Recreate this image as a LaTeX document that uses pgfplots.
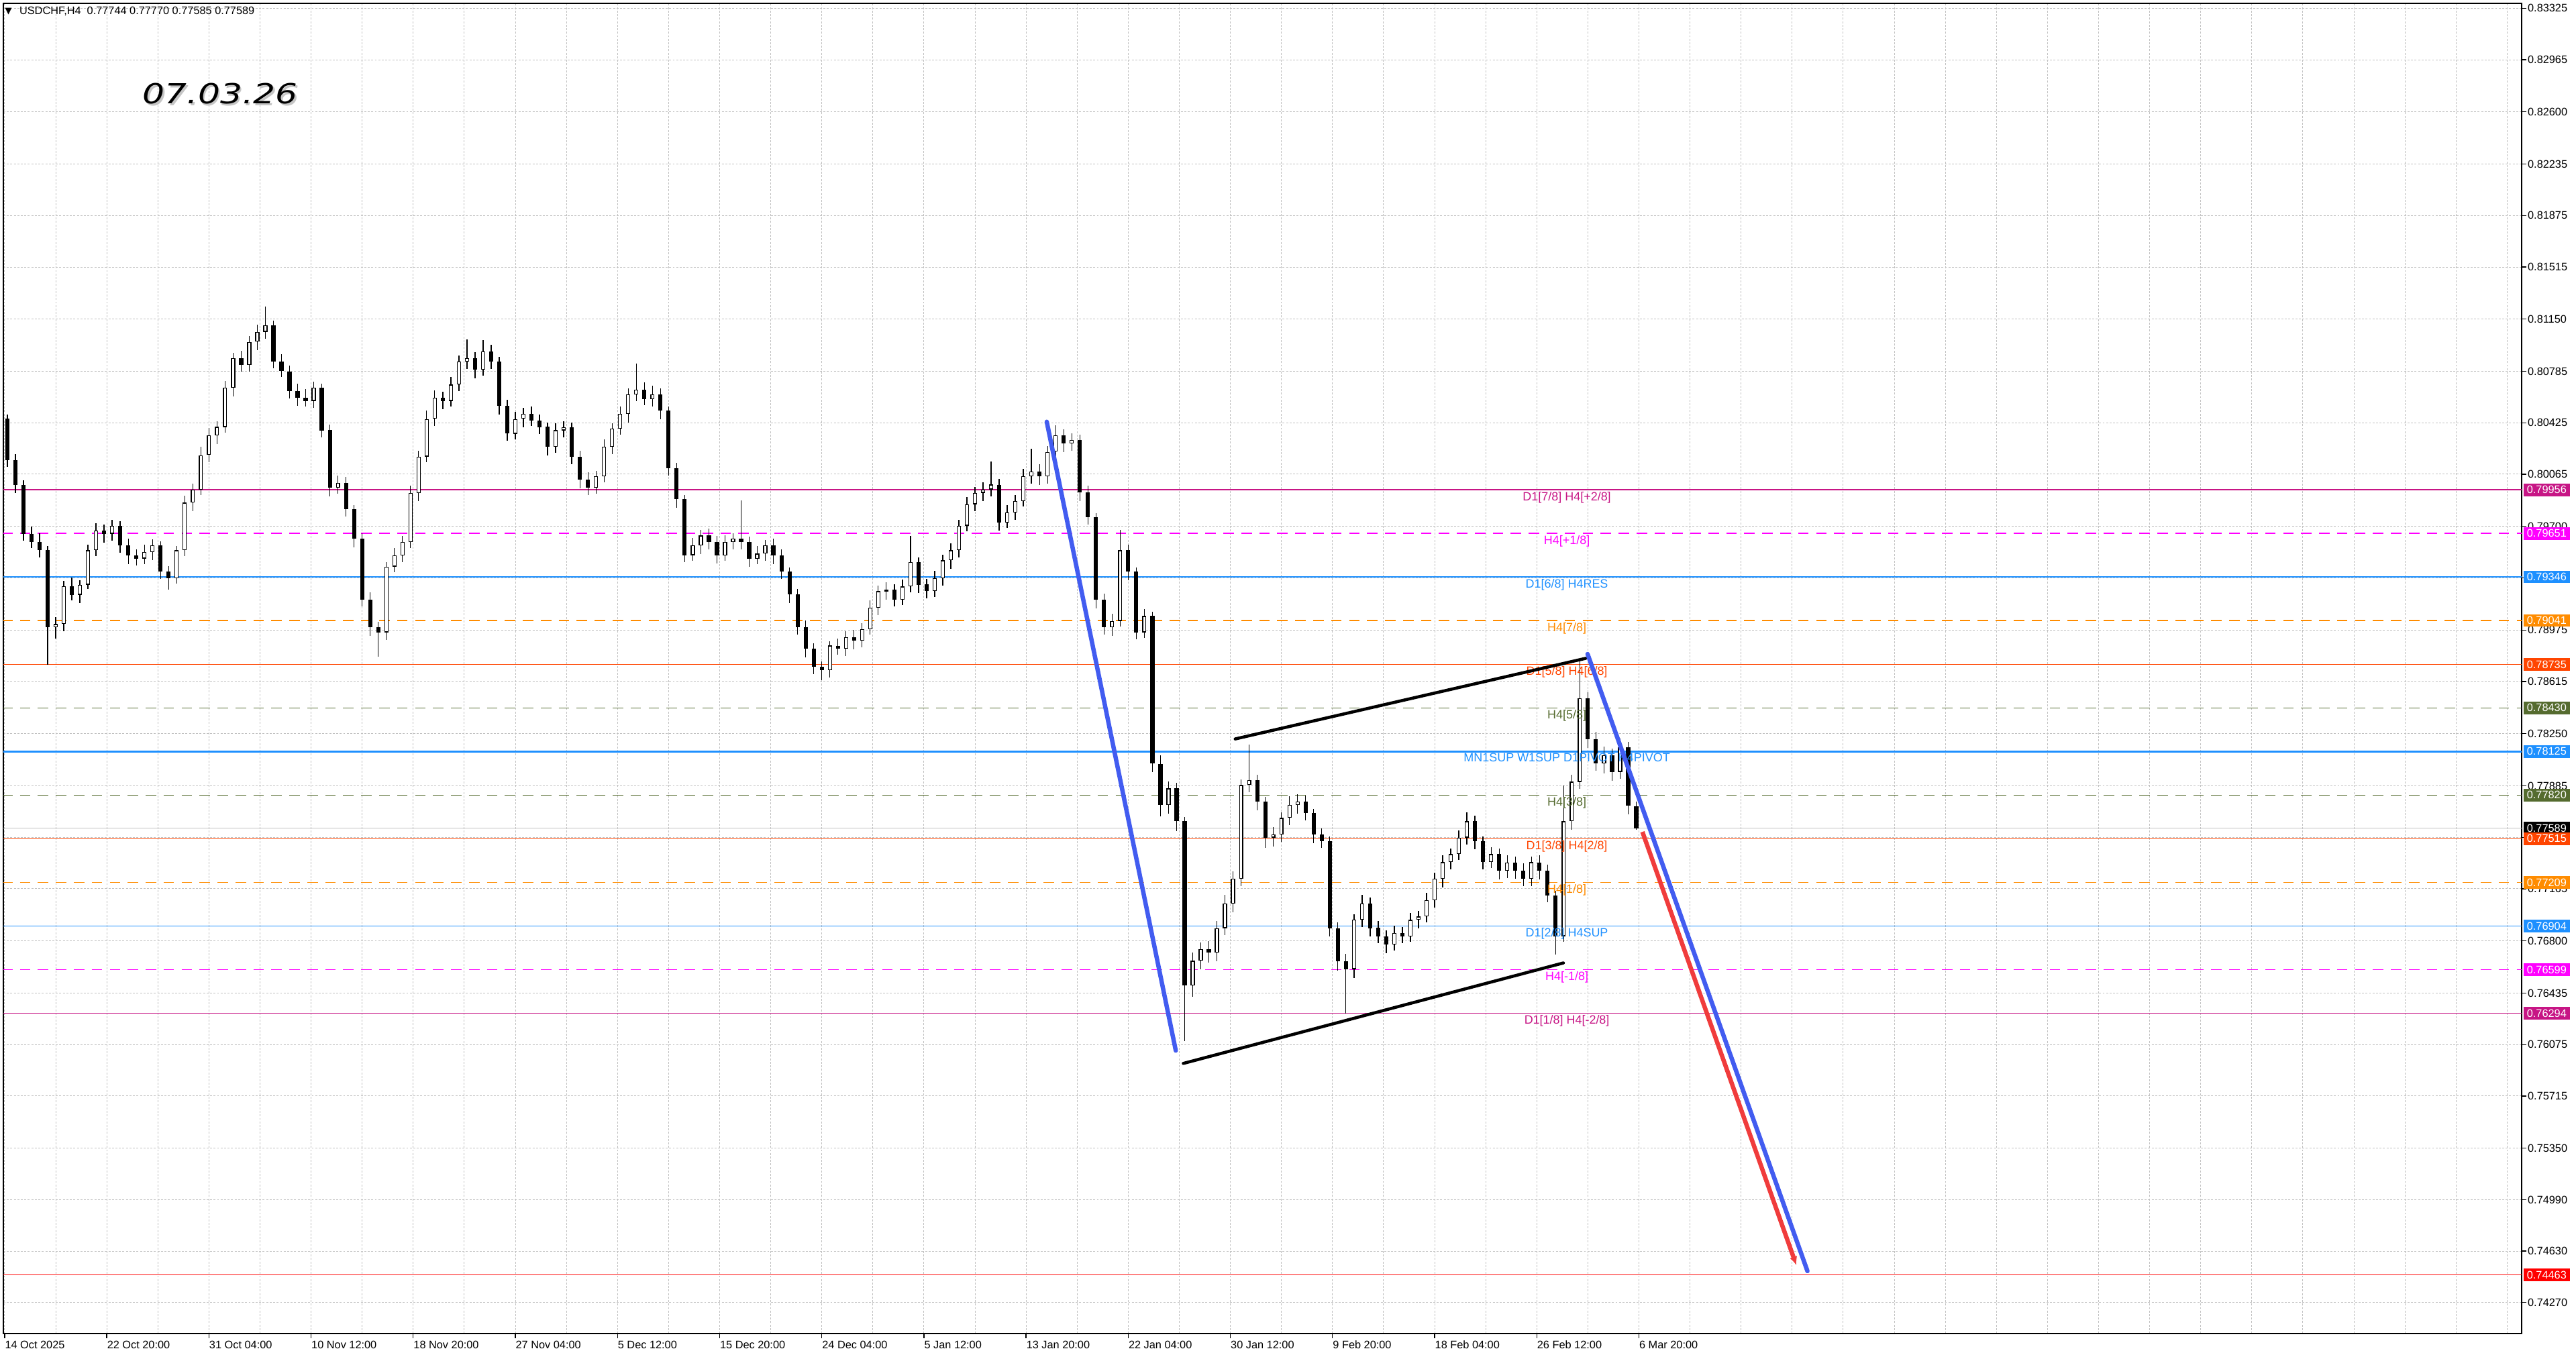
\documentclass[border=0pt]{standalone}
\usepackage{fontspec}
\setmainfont{Liberation Sans}
\newfontfamily\dejavu{DejaVu Sans}
\usepackage{pgfplots}
\usepackage{pgfplotstable}
\pgfplotsset{compat=1.18}
\usetikzlibrary{arrows.meta}

\definecolor{mvRed}{RGB}{199,21,133}
\definecolor{magLvl}{RGB}{255,0,255}
\definecolor{dBlue}{RGB}{30,144,255}
\definecolor{dOrange}{RGB}{255,140,0}
\definecolor{oRed}{RGB}{255,69,0}
\definecolor{oliveLvl}{RGB}{85,107,47}
\definecolor{gridGray}{RGB}{192,192,192}
\definecolor{trendBlue}{RGB}{66,92,240}
\definecolor{trendRed}{RGB}{240,60,60}

\newcommand\tickfont{\fontsize{5}{6}\selectfont}
\newcommand\lvlfont{\fontsize{5.5}{6.5}\selectfont}

% USDCHF H4, one row per three H4 bars: open, close, upper / lower wick in pips
\pgfplotstableread{
o c wu wd
0.80453 0.80166 3 5
0.80166 0.79993 4 6
0.79993 0.79649 3 5
0.79649 0.79591 5 4
0.79591 0.79534 6 5
0.79534 0.78994 3 26
0.78994 0.79017 5 8
0.79017 0.79281 4 5
0.79281 0.79224 6 4
0.79224 0.79293 3 6
0.79293 0.79534 4 3
0.79534 0.79672 5 4
0.79672 0.79649 4 6
0.79649 0.79706 4 5
0.79706 0.79568 3 5
0.79568 0.79499 5 6
0.79499 0.79476 4 5
0.79476 0.79522 5 4
0.79522 0.79568 4 6
0.79568 0.79384 3 5
0.79384 0.79339 4 8
0.79339 0.79534 3 4
0.79534 0.79867 5 4
0.79867 0.79959 4 6
0.79959 0.80200 6 4
0.80200 0.80338 5 5
0.80338 0.80396 4 6
0.80396 0.80671 5 4
0.80671 0.80878 4 6
0.80878 0.80832 5 5
0.80832 0.80993 4 5
0.80993 0.81062 5 6
0.81062 0.81108 13 5
0.81108 0.80855 3 5
0.80855 0.80786 5 4
0.80786 0.80648 4 5
0.80648 0.80602 5 6
0.80602 0.80579 6 4
0.80579 0.80671 4 5
0.80671 0.80373 3 5
0.80373 0.79970 4 6
0.79970 0.80005 5 4
0.80005 0.79821 4 5
0.79821 0.79614 3 6
0.79614 0.79189 4 5
0.79189 0.78994 5 6
0.78994 0.78959 4 17
0.78959 0.79419 3 5
0.79419 0.79499 5 4
0.79499 0.79591 4 5
0.79591 0.79936 5 4
0.79936 0.80189 4 6
0.80189 0.80453 6 4
0.80453 0.80602 5 5
0.80602 0.80579 4 6
0.80579 0.80694 5 4
0.80694 0.80855 4 5
0.80855 0.80878 13 5
0.80878 0.80798 4 6
0.80798 0.80924 8 4
0.80924 0.80855 5 5
0.80855 0.80545 3 6
0.80545 0.80350 4 5
0.80350 0.80453 5 4
0.80453 0.80488 4 6
0.80488 0.80442 5 4
0.80442 0.80396 4 5
0.80396 0.80258 3 6
0.80258 0.80373 5 4
0.80373 0.80396 4 5
0.80396 0.80189 3 5
0.80189 0.80028 4 6
0.80028 0.79970 5 5
0.79970 0.80051 4 4
0.80051 0.80258 5 4
0.80258 0.80384 4 5
0.80384 0.80488 5 4
0.80488 0.80625 4 6
0.80625 0.80660 18 5
0.80660 0.80591 5 4
0.80591 0.80625 6 5
0.80625 0.80510 4 6
0.80510 0.80108 3 5
0.80108 0.79890 4 6
0.79890 0.79499 3 5
0.79499 0.79568 5 4
0.79568 0.79637 4 6
0.79637 0.79591 5 5
0.79591 0.79499 4 6
0.79499 0.79591 5 4
0.79591 0.79614 4 5
0.79614 0.79591 27 5
0.79591 0.79476 4 6
0.79476 0.79511 5 4
0.79511 0.79568 4 5
0.79568 0.79499 5 6
0.79499 0.79384 4 5
0.79384 0.79224 3 6
0.79224 0.78994 4 5
0.78994 0.78844 5 6
0.78844 0.78718 4 5
0.78718 0.78695 4 7
0.78695 0.78867 3 5
0.78867 0.78844 5 4
0.78844 0.78925 4 5
0.78925 0.78902 5 6
0.78902 0.78982 4 5
0.78982 0.79132 5 4
0.79132 0.79247 4 5
0.79247 0.79258 5 6
0.79258 0.79189 4 5
0.79189 0.79281 5 4
0.79281 0.79453 18 4
0.79453 0.79293 3 6
0.79293 0.79247 4 5
0.79247 0.79339 5 4
0.79339 0.79465 4 5
0.79465 0.79534 5 6
0.79534 0.79706 4 5
0.79706 0.79856 5 4
0.79856 0.79936 4 5
0.79936 0.79959 5 6
0.79959 0.79993 16 5
0.79993 0.79729 4 6
0.79729 0.79798 5 4
0.79798 0.79879 4 5
0.79879 0.80051 5 4
0.80051 0.80085 16 5
0.80085 0.80051 5 6
0.80051 0.80223 4 5
0.80223 0.80338 7 5
0.80338 0.80281 4 6
0.80281 0.80304 5 5
0.80304 0.79936 4 6
0.79936 0.79764 5 5
0.79764 0.79189 3 6
0.79189 0.78994 4 5
0.78994 0.79040 5 6
0.79040 0.79534 14 4
0.79534 0.79384 4 6
0.79384 0.78959 3 5
0.78959 0.79074 5 4
0.79074 0.78040 3 6
0.78040 0.77753 6 8
0.77753 0.77868 5 6
0.77868 0.77638 4 7
0.77638 0.76489 3 39
0.76489 0.76661 6 8
0.76661 0.76742 5 6
0.76742 0.76719 6 7
0.76719 0.76891 5 6
0.76891 0.77063 6 5
0.77063 0.77236 5 6
0.77236 0.77891 4 5
0.77891 0.77925 25 5
0.77925 0.77776 4 6
0.77776 0.77523 3 7
0.77523 0.77546 5 6
0.77546 0.77661 4 5
0.77661 0.77753 6 5
0.77753 0.77776 5 6
0.77776 0.77695 4 5
0.77695 0.77546 3 6
0.77546 0.77500 4 5
0.77500 0.76891 3 6
0.76891 0.76661 4 7
0.76661 0.76604 5 31
0.76604 0.76949 4 6
0.76949 0.77063 6 5
0.77063 0.76891 4 6
0.76891 0.76834 5 5
0.76834 0.76776 4 6
0.76776 0.76857 5 4
0.76857 0.76834 4 5
0.76834 0.76949 5 4
0.76949 0.76972 4 6
0.76972 0.77086 5 4
0.77086 0.77236 4 5
0.77236 0.77351 5 6
0.77351 0.77408 4 5
0.77408 0.77523 5 4
0.77523 0.77638 6 5
0.77638 0.77500 4 6
0.77500 0.77351 3 5
0.77351 0.77408 5 4
0.77408 0.77293 4 6
0.77293 0.77351 5 5
0.77351 0.77293 4 6
0.77293 0.77236 5 5
0.77236 0.77351 4 5
0.77351 0.77293 5 6
0.77293 0.77121 4 5
0.77121 0.76834 3 13
0.76834 0.77638 25 4
0.77638 0.77914 5 6
0.77914 0.78500 27 5
0.78500 0.78213 4 6
0.78213 0.78040 5 5
0.78040 0.78098 6 7
0.78098 0.77983 5 6
0.77983 0.78155 6 5
0.78155 0.77744 4 6
0.77744 0.77589 3 1
}\candles

\begin{document}
\begin{tikzpicture}
\path[use as bounding box] (0,0) rectangle (1176pt,618.75pt);
\begin{axis}[
  at={(1.5pt,9.75pt)}, anchor=south west,
  scale only axis, width=1149.75pt, height=607.5pt,
  xmin=-0.5, xmax=936.4, ymin=0.74053, ymax=0.83360,
  clip mode=individual,
  axis line style={black, line width=0.5pt},
  grid=major,
  grid style={gridGray, line width=0.3pt, dash pattern=on 0.9pt off 0.7pt},
  tick align=outside, major tick length=2pt,
  xtick pos=bottom, ytick pos=right, yticklabel pos=right,
  xtick={0,19,...,931},
  xticklabels={14 Oct 2025,,22 Oct 20:00,,31 Oct 04:00,,10 Nov 12:00,,18 Nov 20:00,,27 Nov 04:00,,5 Dec 12:00,,15 Dec 20:00,,24 Dec 04:00,,5 Jan 12:00,,13 Jan 20:00,,22 Jan 04:00,,30 Jan 12:00,,9 Feb 20:00,,18 Feb 04:00,,26 Feb 12:00,,6 Mar 20:00},
  xtick style={draw=none},
  extra x ticks={0,38,...,608},
  extra x tick labels={},
  extra x tick style={grid=none, xtick style={draw=black, line width=0.4pt}},
  ytick={0.83325,0.82965,0.82600,0.82235,0.81875,0.81515,0.81150,0.80785,0.80425,0.80065,0.79700,0.79340,0.78975,0.78615,0.78250,0.77885,0.77525,0.77165,0.76800,0.76435,0.76075,0.75715,0.75350,0.74990,0.74630,0.74270},
  yticklabels={0.83325,0.82965,0.82600,0.82235,0.81875,0.81515,0.81150,0.80785,0.80425,0.80065,0.79700,0.79340,0.78975,0.78615,0.78250,0.77885,0.77525,0.77165,0.76800,0.76435,0.76075,0.75715,0.75350,0.74990,0.74630,0.74270},
  ytick style={black, line width=0.4pt},
  xticklabel style={font=\tickfont, anchor=north west, inner sep=0pt, yshift=-1.2pt},
  yticklabel style={font=\tickfont, anchor=west, inner sep=0pt, xshift=0.6pt},
  candle/.style={only marks, mark=*, mark size=0pt, mark options={draw=none, fill=none},
    error bars/.cd, y dir=both, y explicit, error mark=none},
]
% level lines
\addplot[mvRed, line width=0.45pt] coordinates {(-1,0.79956) (940,0.79956)};
\addplot[magLvl, line width=0.45pt, dash pattern=on 4.8pt off 3.4pt] coordinates {(-1,0.79651) (940,0.79651)};
\addplot[dBlue, line width=0.45pt] coordinates {(-1,0.79346) (940,0.79346)};
\addplot[dOrange, line width=0.45pt, dash pattern=on 4.8pt off 3.4pt] coordinates {(-1,0.79041) (940,0.79041)};
\addplot[oRed, line width=0.45pt] coordinates {(-1,0.78735) (940,0.78735)};
\addplot[oliveLvl, line width=0.45pt, dash pattern=on 4.8pt off 3.4pt] coordinates {(-1,0.78430) (940,0.78430)};
\addplot[dBlue, line width=0.75pt] coordinates {(-1,0.78125) (940,0.78125)};
\addplot[oliveLvl, line width=0.45pt, dash pattern=on 4.8pt off 3.4pt] coordinates {(-1,0.77820) (940,0.77820)};
\addplot[gridGray, line width=0.45pt] coordinates {(-1,0.77589) (940,0.77589)};
\addplot[oRed, line width=0.45pt] coordinates {(-1,0.77515) (940,0.77515)};
\addplot[dOrange, line width=0.45pt, dash pattern=on 4.8pt off 3.4pt] coordinates {(-1,0.77209) (940,0.77209)};
\addplot[dBlue, line width=0.45pt] coordinates {(-1,0.76904) (940,0.76904)};
\addplot[magLvl, line width=0.45pt, dash pattern=on 4.8pt off 3.4pt] coordinates {(-1,0.76599) (940,0.76599)};
\addplot[mvRed, line width=0.45pt] coordinates {(-1,0.76294) (940,0.76294)};
\addplot[red, line width=0.45pt] coordinates {(-1,0.74463) (940,0.74463)};

% candles: wicks, bodies, hollow bull bodies
\addplot[black, candle, error bar style={line width=0.4pt, black}]
  table[x expr=3*\coordindex+1,
    y expr={(\thisrow{o}+\thisrow{c}+(\thisrow{wu}-\thisrow{wd})*0.0001)/2},
    y error expr={(abs(\thisrow{o}-\thisrow{c})+(\thisrow{wu}+\thisrow{wd})*0.0001)/2}]{\candles};
\addplot[black, candle, error bar style={line width=1.9pt, black}]
  table[x expr=3*\coordindex+1, y expr={(\thisrow{o}+\thisrow{c})/2},
    y error expr={max(abs(\thisrow{o}-\thisrow{c})/2,0.00002)}]{\candles};
\addplot[white, restrict y to domain=0.7:0.9, candle, error bar style={line width=1.1pt, white}]
  table[x expr=3*\coordindex+1,
    y expr={\thisrow{c}>\thisrow{o} ? (\thisrow{o}+\thisrow{c})/2 : 0},
    y error expr={max(abs(\thisrow{o}-\thisrow{c})/2-0.00006,0)}]{\candles};

% level labels
\node[anchor=north, inner sep=0.7pt, text=mvRed, font=\lvlfont] at (axis cs:581.2,0.79956) {D1[7/8] H4[+2/8]};
\node[anchor=north, inner sep=0.7pt, text=magLvl, font=\lvlfont] at (axis cs:581.2,0.79651) {H4[+1/8]};
\node[anchor=north, inner sep=0.7pt, text=dBlue, font=\lvlfont] at (axis cs:581.2,0.79346) {D1[6/8] H4RES};
\node[anchor=north, inner sep=0.7pt, text=dOrange, font=\lvlfont] at (axis cs:581.2,0.79041) {H4[7/8]};
\node[anchor=north, inner sep=0.7pt, text=oRed, font=\lvlfont] at (axis cs:581.2,0.78735) {D1[5/8] H4[6/8]};
\node[anchor=north, inner sep=0.7pt, text=oliveLvl, font=\lvlfont] at (axis cs:581.2,0.78430) {H4[5/8]};
\node[anchor=north, inner sep=0.7pt, text=dBlue, font=\lvlfont] at (axis cs:581.2,0.78125) {MN1SUP W1SUP D1PIVOT H4PIVOT};
\node[anchor=north, inner sep=0.7pt, text=oliveLvl, font=\lvlfont] at (axis cs:581.2,0.77820) {H4[3/8]};
\node[anchor=north, inner sep=0.7pt, text=oRed, font=\lvlfont] at (axis cs:581.2,0.77515) {D1[3/8] H4[2/8]};
\node[anchor=north, inner sep=0.7pt, text=dOrange, font=\lvlfont] at (axis cs:581.2,0.77209) {H4[1/8]};
\node[anchor=north, inner sep=0.7pt, text=dBlue, font=\lvlfont] at (axis cs:581.2,0.76904) {D1[2/8] H4SUP};
\node[anchor=north, inner sep=0.7pt, text=magLvl, font=\lvlfont] at (axis cs:581.2,0.76599) {H4[-1/8]};
\node[anchor=north, inner sep=0.7pt, text=mvRed, font=\lvlfont] at (axis cs:581.2,0.76294) {D1[1/8] H4[-2/8]};

% trend lines
\addplot[trendBlue, line width=2pt, line cap=round] coordinates {(387.7,0.80432) (435.7,0.76033)};
\addplot[black, line width=1.4pt, line cap=round] coordinates {(457.8,0.78213) (588.2,0.78777)};
\addplot[black, line width=1.4pt, line cap=round] coordinates {(438.5,0.75943) (579.9,0.76646)};
\addplot[trendBlue, line width=2pt, line cap=round] coordinates {(588.9,0.78807) (670.7,0.74490)};
\addplot[trendRed, line width=2pt, -{Latex[length=4pt,width=3.5pt]}] coordinates {(609.3,0.77563) (666.6,0.74530)};

% price boxes on the scale
\tikzset{pbox/.style={anchor=west, xshift=0.6pt, text=white, font=\tickfont, minimum height=5.7pt, inner xsep=1.6pt, inner ysep=0pt}}
\node[pbox, fill=mvRed] at (axis cs:936.4,0.79956) {0.79956};
\node[pbox, fill=magLvl] at (axis cs:936.4,0.79651) {0.79651};
\node[pbox, fill=dBlue] at (axis cs:936.4,0.79346) {0.79346};
\node[pbox, fill=dOrange] at (axis cs:936.4,0.79041) {0.79041};
\node[pbox, fill=oRed] at (axis cs:936.4,0.78735) {0.78735};
\node[pbox, fill=oliveLvl] at (axis cs:936.4,0.78430) {0.78430};
\node[pbox, fill=dBlue] at (axis cs:936.4,0.78125) {0.78125};
\node[pbox, fill=oliveLvl] at (axis cs:936.4,0.77820) {0.77820};
\node[pbox, fill=black] at (axis cs:936.4,0.77589) {0.77589};
\node[pbox, fill=oRed] at (axis cs:936.4,0.77515) {0.77515};
\node[pbox, fill=dOrange] at (axis cs:936.4,0.77209) {0.77209};
\node[pbox, fill=dBlue] at (axis cs:936.4,0.76904) {0.76904};
\node[pbox, fill=magLvl] at (axis cs:936.4,0.76599) {0.76599};
\node[pbox, fill=mvRed] at (axis cs:936.4,0.76294) {0.76294};
\node[pbox, fill=red] at (axis cs:936.4,0.74463) {0.74463};
\end{axis}

% header and date
\node[inner sep=0pt, font=\dejavu\fontsize{4}{5}\selectfont] at (3.9pt,613.6pt) {▼};
\node[anchor=west, inner sep=0pt, font=\tickfont] at (8.7pt,613.5pt) {USDCHF,H4\ \ 0.77744 0.77770 0.77585 0.77589};
\node[text=gray!45] at (101.3pt,575.2pt) {\scalebox{1.26}[1]{\dejavu\itshape\fontsize{12.6}{14}\selectfont 07.03.26}};
\node[text=black] at (100.5pt,576pt) {\scalebox{1.26}[1]{\dejavu\itshape\fontsize{12.6}{14}\selectfont 07.03.26}};
\end{tikzpicture}
\end{document}
